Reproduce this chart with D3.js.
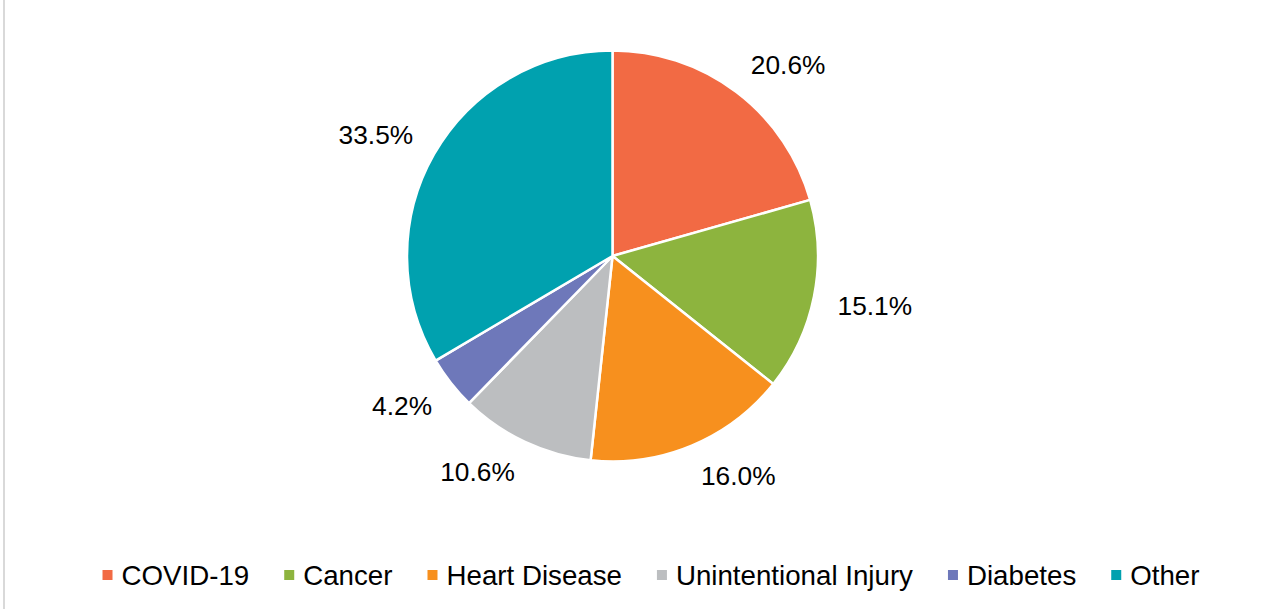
<!DOCTYPE html>
<html>
<head>
<meta charset="utf-8">
<script src="https://cdn.jsdelivr.net/npm/d3@7"></script>
<style>
  html, body { margin: 0; padding: 0; background: #fff; }
  svg { display: block; }
</style>
</head>
<body>
<svg id="chart" width="1279" height="609"></svg>
<script>
const categories = ["COVID-19", "Cancer", "Heart Disease", "Unintentional Injury", "Diabetes", "Other"];
const values = [20.6, 15.1, 16.0, 10.6, 4.2, 33.5];
const colors = ["#F26A44", "#8DB43E", "#F7901E", "#BCBEC0", "#6E78BA", "#00A1AF"];

const W = 1279, H = 609;
const cx = 612.5, cy = 256, R = 205.5;
const font = "Liberation Sans, Arial, sans-serif";

const svg = d3.select("#chart");

// left frame line
svg.append("line").attr("x1", 4).attr("x2", 4).attr("y1", 0).attr("y2", H)
  .attr("stroke", "#D9D9D9").attr("stroke-width", 2);

const data = categories.map((c, i) => ({ cat: c, value: values[i], color: colors[i] }));

const pie = d3.pie().value(d => d.value).sort(null);
const arc = d3.arc().innerRadius(0).outerRadius(R);
const arcs = pie(data);

const g = svg.append("g").attr("transform", `translate(${cx},${cy})`);

g.selectAll("path.slice").data(arcs).enter().append("path")
  .attr("class", "slice")
  .attr("d", arc)
  .attr("fill", d => d.data.color)
  .attr("stroke", "#fff")
  .attr("stroke-width", 2.5)
  .attr("stroke-linejoin", "round");

// labels (outside end)
const labelFs = 26.3;
const Rl = R + 24;
const halfH = 8;
const clamp = v => Math.max(-1, Math.min(1, v));
g.selectAll("text.lbl").data(arcs).enter().append("text")
  .attr("class", "lbl")
  .attr("font-family", font)
  .attr("font-size", labelFs)
  .attr("fill", "#000")
  .attr("text-anchor", "middle")
  .text(d => d.data.value.toFixed(1) + "%")
  .each(function (d) {
    const a = (d.startAngle + d.endAngle) / 2;
    const s = Math.sin(a), c = Math.cos(a);
    const w = this.getComputedTextLength();
    const px = Rl * s, py = -Rl * c;
    const x = px + (w / 2) * clamp(s * 3);
    const y = py - halfH * clamp(c * 3);
    d3.select(this).attr("x", x).attr("y", y + 0.716 * labelFs / 2);
  });

// legend
const legFs = 27.7;
const legBaseline = 585;
const sq = 10, sqGap = 9, itemGap = 35;
const leg = svg.append("g");
const items = leg.selectAll("g.item").data(data).enter().append("g").attr("class", "item");
items.append("rect")
  .attr("width", sq).attr("height", sq)
  .attr("y", legBaseline - 15)
  .attr("fill", d => d.color);
items.append("text")
  .attr("font-family", font)
  .attr("font-size", legFs)
  .attr("fill", "#000")
  .attr("y", legBaseline)
  .attr("x", sq + sqGap)
  .text(d => d.cat);
let widths = [];
items.each(function () {
  widths.push(d3.select(this).select("text").node().getComputedTextLength() + sq + sqGap);
});
const total = d3.sum(widths) + itemGap * (widths.length - 1);
let x0 = 651 - total / 2;
items.each(function (d, i) {
  d3.select(this).attr("transform", `translate(${x0},0)`);
  x0 += widths[i] + itemGap;
});
</script>
</body>
</html>
